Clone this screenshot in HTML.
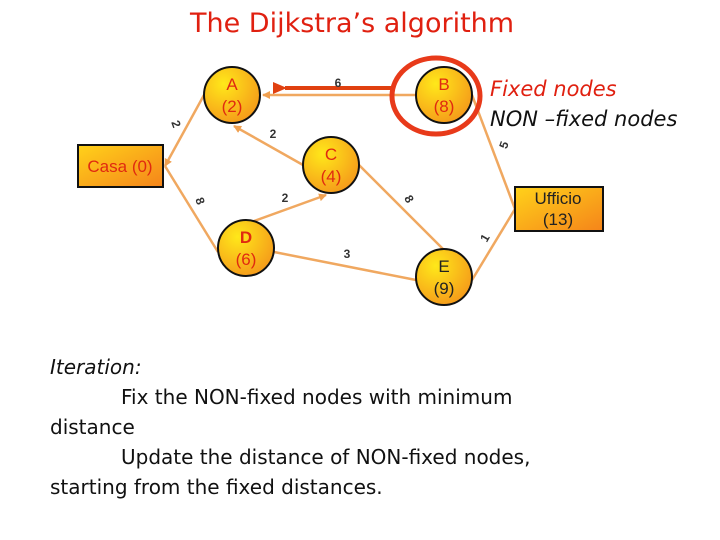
<!DOCTYPE html>
<html><head><meta charset="utf-8"><style>
body{margin:0;width:720px;height:540px;background:#fff;overflow:hidden;position:relative;font-family:"DejaVu Sans","Liberation Sans",sans-serif}
.t{position:absolute;white-space:nowrap}
</style></head><body>
<div class="t" style="left:190px;top:8px;font-size:27px;color:#e02010">The Dijkstra’s algorithm</div>
<svg width="720" height="320" style="position:absolute;left:0;top:0">
<defs>
<radialGradient id="g" cx="35%" cy="30%" r="75%"><stop offset="0" stop-color="#ffe81a"/><stop offset="1" stop-color="#f59a1a"/></radialGradient>
<linearGradient id="r" x1="0" y1="0" x2="1" y2="1"><stop offset="0" stop-color="#ffd21a"/><stop offset="1" stop-color="#f5841a"/></linearGradient>
<marker id="a" markerWidth="8" markerHeight="8" refX="7" refY="4" orient="auto" markerUnits="userSpaceOnUse"><path d="M0,0L8,4L0,8z" fill="#f0a050"/></marker>
<marker id="ar" markerWidth="14" markerHeight="12" refX="2" refY="6" orient="auto" markerUnits="userSpaceOnUse"><path d="M14,0L0,6L14,12z" fill="#e04010"/></marker>
</defs>
<g stroke="#f0a860" stroke-width="2.5" fill="none">
<line x1="204" y1="95" x2="165" y2="166" marker-end="url(#a)"/>
<line x1="303" y1="165" x2="234" y2="126" marker-end="url(#a)"/>
<line x1="416" y1="95" x2="263" y2="95" marker-end="url(#a)"/>
<line x1="218" y1="252" x2="165" y2="166"/>
<line x1="246" y1="224" x2="326" y2="195" marker-end="url(#a)"/>
<line x1="359" y1="165" x2="444" y2="250"/>
<line x1="274" y1="252" x2="416" y2="280"/>
<line x1="472" y1="95" x2="515" y2="209"/>
<line x1="472" y1="280" x2="515" y2="209"/>
</g>
<line x1="395" y1="88" x2="285" y2="88" stroke="#e04010" stroke-width="4" marker-end="url(#ar)"/>
<g stroke="#111" stroke-width="2">
<rect x="78" y="145" width="85" height="42" fill="url(#r)"/>
<rect x="515" y="187" width="88" height="44" fill="url(#r)"/>
<circle cx="232" cy="95" r="28" fill="url(#g)"/>
<circle cx="331" cy="165" r="28" fill="url(#g)"/>
<circle cx="246" cy="248" r="28" fill="url(#g)"/>
<circle cx="444" cy="95" r="28" fill="url(#g)"/>
<circle cx="444" cy="277" r="28" fill="url(#g)"/>
</g>
<ellipse cx="436" cy="96" rx="44" ry="38" fill="none" stroke="#e83a1a" stroke-width="5"/>
<g font-family="Liberation Sans,sans-serif" font-size="17" text-anchor="middle" fill="#e02a10">
<text x="120" y="172">Casa (0)</text>
<text x="232" y="90">A</text><text x="232" y="112">(2)</text>
<text x="331" y="160">C</text><text x="331" y="182">(4)</text>
<text x="246" y="243" font-weight="bold">D</text><text x="246" y="265">(6)</text>
<text x="444" y="90">B</text><text x="444" y="112">(8)</text>
</g>
<g font-family="Liberation Sans,sans-serif" font-size="17" text-anchor="middle" fill="#222">
<text x="444" y="272">E</text><text x="444" y="294">(9)</text>
<text x="558" y="204">Ufficio</text><text x="558" y="225">(13)</text>
</g>
<g font-family="Liberation Sans,sans-serif" font-size="12" font-weight="bold" fill="#333" text-anchor="middle">
<text x="338" y="87">6</text>
<text x="176" y="128" transform="rotate(70 176 124)">2</text>
<text x="273" y="138">2</text>
<text x="200" y="205" transform="rotate(70 200 201)">8</text>
<text x="285" y="202">2</text>
<text x="409" y="203" transform="rotate(60 409 199)">8</text>
<text x="347" y="258">3</text>
<text x="504" y="149" transform="rotate(-70 504 145)">5</text>
<text x="485" y="242" transform="rotate(-60 485 238)">1</text>
</g>
</svg>
<div class="t" style="left:490px;top:77px;font-size:21px;font-style:italic;color:#e02010">Fixed nodes</div>
<div class="t" style="left:490px;top:107px;font-size:21px;font-style:italic;color:#111">NON –fixed nodes</div>
<div style="position:absolute;left:50px;top:352px;width:560px;font-size:20px;line-height:30px;color:#111">
<i>Iteration:</i><br>
<span style="padding-left:71px">Fix the NON-fixed nodes with minimum</span><br>distance<br>
<span style="padding-left:71px">Update the distance of NON-fixed nodes,</span><br>starting from the fixed distances.
</div>
</body></html>
